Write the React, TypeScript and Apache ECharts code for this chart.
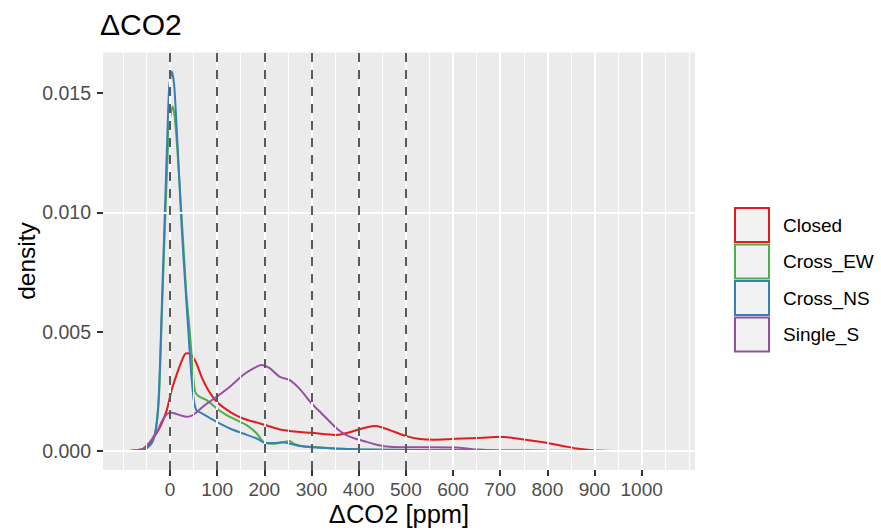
import React, { useEffect, useRef } from "react";
import * as echarts from "echarts";

const groups = ["Closed", "Cross_EW", "Cross_NS", "Single_S"];
const colors = ["#E41A1C", "#4DAF4A", "#377EB8", "#984EA3"];

// Closed (red)
const closedX = [-85, -70, -56, -39, -21, -7, 3.5, 17.6, 31.8, 38.8, 53, 67, 81, 99, 127, 155, 191, 233, 270, 300, 330, 353, 375, 400, 420, 434, 450, 466, 501, 530, 560, 590, 621, 660, 699, 720, 750, 780, 805, 835, 862, 890, 920, 960, 1056];
const closedY = [0, 0.00003, 0.0001, 0.00045, 0.001, 0.0017, 0.00255, 0.0034, 0.00406, 0.00409, 0.0038, 0.0031, 0.00255, 0.00206, 0.00164, 0.00136, 0.00115, 0.0009, 0.0008, 0.00076, 0.0007, 0.00067, 0.00075, 0.0009, 0.001, 0.00104, 0.00098, 0.00087, 0.00062, 0.0005, 0.00047, 0.00049, 0.00052, 0.00055, 0.00059, 0.00056, 0.00048, 0.00039, 0.00031, 0.0002, 0.0001, 0.00004, 0.00001, 0, 0];

// Cross_EW (green)
const ewX = [-85, -70, -56, -46, -38, -32, -27, -23, -19, -15, -10.5, -5, -1, 5.7, 10, 15, 20, 25, 30, 35, 42, 47, 53, 60, 77.7, 99, 120, 141, 162.5, 184, 198, 215, 226, 240, 254, 262, 275, 300, 350, 403, 500, 600, 700, 800, 1056];
const ewY = [0, 0.00002, 0.00004, 0.00017, 0.00035, 0.0007, 0.0013, 0.0024, 0.0046, 0.007, 0.0095, 0.0124, 0.0138, 0.01444, 0.014, 0.0128, 0.0113, 0.0097, 0.0081, 0.0065, 0.005, 0.0037, 0.0025, 0.0023, 0.00213, 0.00178, 0.0015, 0.00129, 0.00108, 0.00073, 0.00038, 0.0003, 0.00031, 0.00036, 0.00042, 0.0003, 0.00022, 0.00017, 0.0001, 0.00006, 0.00004, 0.00003, 0.00001, 0, 0];

// Cross_NS (blue)
const nsX = [-85, -70, -56, -46, -38, -32, -27, -23, -19, -15, -10.5, -5, -1.5, 4, 9, 14, 19.7, 25, 30, 35, 39, 44, 50, 56, 65, 74, 99, 127, 155, 184, 201, 220, 237, 255, 270, 300, 350, 400, 450, 500, 600, 650, 700, 800, 1056];
const nsY = [0, 0.00002, 0.00004, 0.00017, 0.00035, 0.0007, 0.0014, 0.0026, 0.005, 0.0075, 0.0102, 0.0136, 0.0153, 0.0159, 0.0153, 0.0136, 0.0114, 0.0093, 0.0077, 0.0062, 0.005, 0.0035, 0.0022, 0.0017, 0.0016, 0.0015, 0.00122, 0.00094, 0.00073, 0.00052, 0.00034, 0.00033, 0.00036, 0.0003, 0.00023, 0.00015, 0.0001, 0.00007, 0.00005, 0.00004, 0.00004, 0.00002, 0.00001, 0, 0];

// Single_S (purple)
const singleX = [-85, -70, -56, -45, -35, -25, -17.6, -7, 3.5, 12, 21, 35, 45, 53, 74, 99, 127, 155, 177, 194, 212, 233, 254, 275, 300, 320, 339, 356, 374, 395, 417, 440, 466, 500, 550, 607, 630, 650, 700, 800, 900, 1056];
const singleY = [0, 0.00003, 0.0001, 0.0003, 0.00059, 0.0009, 0.00122, 0.00154, 0.0016, 0.00156, 0.0015, 0.00143, 0.00147, 0.00157, 0.00192, 0.00227, 0.00269, 0.00318, 0.00346, 0.0036, 0.00346, 0.0031, 0.00297, 0.0026, 0.00199, 0.0016, 0.00122, 0.0009, 0.00066, 0.0005, 0.00038, 0.00025, 0.00017, 0.00015, 0.00015, 0.00014, 0.0001, 0.00006, 0.00002, 0.00001, 0, 0];

const xTicks = [0, 100, 200, 300, 400, 500, 600, 700, 800, 900, 1000];
const xMinor = [-100, -50, 50, 150, 250, 350, 450, 550, 650, 750, 850, 950, 1050, 1100];
const yTicks = [0, 0.005, 0.01, 0.015];
const yMinor = [0.0025, 0.0075, 0.0125];
const vLines = [0, 100, 200, 300, 400, 500];

const seriesX = [closedX, ewX, nsX, singleX];
const seriesY = [closedY, ewY, nsY, singleY];

const FONT = "'Liberation Sans', Arial, sans-serif";

export default function App() {
  const ref = useRef<HTMLDivElement>(null);
  useEffect(() => {
    if (!ref.current) return;
    const chart = echarts.init(ref.current, undefined, { renderer: "svg" });
    const gridMarks = [
      ...xMinor.map((v) => ({ xAxis: v, lineStyle: { color: "#ffffff", width: 1, type: "solid" as const } })),
      ...yMinor.map((v) => ({ yAxis: v, lineStyle: { color: "#ffffff", width: 1, type: "solid" as const } })),
      ...xTicks.map((v) => ({ xAxis: v, lineStyle: { color: "#ffffff", width: 2, type: "solid" as const } })),
      ...yTicks.map((v) => ({ yAxis: v, lineStyle: { color: "#ffffff", width: 2, type: "solid" as const } })),
    ];
    const keyTop = 207;
    const keyPitch = 36.5;
    const legendGraphics: any[] = [];
    groups.forEach((g, i) => {
      legendGraphics.push({
        type: "rect",
        shape: { x: 735, y: keyTop + keyPitch * i + 1, width: 34, height: 34 },
        style: { fill: "#F2F2F2", stroke: colors[i], lineWidth: 2 },
      });
      legendGraphics.push({
        type: "text",
        x: 783,
        y: keyTop + keyPitch * i + 18,
        style: { text: g, fill: "#000000", font: `19px ${FONT}`, textAlign: "left", textVerticalAlign: "middle" },
      });
    });

    chart.setOption({
      animation: false,
      backgroundColor: "#ffffff",
      grid: {
        left: 103,
        right: 186,
        top: 52.5,
        bottom: 62,
        show: true,
        backgroundColor: "#EBEBEB",
        borderWidth: 0,
      },
      xAxis: {
        type: "value",
        min: -142,
        max: 1113,
        axisLine: { show: false, onZero: false },
        splitLine: { show: false },
        axisTick: {
          show: true,
          customValues: xTicks,
          length: 6,
          lineStyle: { color: "#333333", width: 2 },
        },
        axisLabel: {
          customValues: xTicks,
          color: "#4D4D4D",
          fontSize: 19,
          fontFamily: FONT,
          margin: 19,
          verticalAlign: "middle",
          formatter: (v: number) => String(v),
        },
      },
      yAxis: {
        type: "value",
        min: -0.0008,
        max: 0.0167,
        axisLine: { show: false, onZero: false },
        splitLine: { show: false },
        axisTick: {
          show: true,
          customValues: yTicks,
          length: 6,
          lineStyle: { color: "#333333", width: 2 },
        },
        axisLabel: {
          customValues: yTicks,
          color: "#4D4D4D",
          fontSize: 19.5,
          fontFamily: FONT,
          margin: 12,
          formatter: (v: number) => v.toFixed(3),
        },
      },
      graphic: [
        {
          type: "text",
          x: 100,
          y: 24,
          style: { text: "ΔCO2", fill: "#000000", font: `30px ${FONT}`, textAlign: "left", textVerticalAlign: "middle" },
        },
        {
          type: "text",
          x: 399,
          y: 514,
          style: { text: "ΔCO2 [ppm]", fill: "#000000", font: `25.5px ${FONT}`, textAlign: "center", textVerticalAlign: "middle" },
        },
        {
          type: "text",
          x: 26,
          y: 261,
          rotation: Math.PI / 2,
          style: { text: "density", fill: "#000000", font: `24.5px ${FONT}`, textAlign: "center", textVerticalAlign: "middle" },
        },
        ...legendGraphics,
      ],
      series: [
        {
          type: "line",
          name: "grid",
          data: [],
          z: 1,
          silent: true,
          markLine: {
            silent: true,
            animation: false,
            symbol: ["none", "none"],
            label: { show: false },
            emphasis: { disabled: true },
            data: gridMarks,
          },
        },
        ...groups.map((g, i) => ({
          type: "line",
          name: g,
          z: 2,
          showSymbol: false,
          symbol: "none",
          smooth: 0.25,
          silent: true,
          lineStyle: { color: colors[i], width: 2 },
          itemStyle: { color: colors[i] },
          data: seriesX[i].map((x, j) => [x, seriesY[i][j]]),
        })),
        {
          type: "line",
          name: "vlines",
          data: [],
          z: 3,
          silent: true,
          markLine: {
            silent: true,
            animation: false,
            symbol: ["none", "none"],
            label: { show: false },
            emphasis: { disabled: true },
            lineStyle: { color: "#595959", width: 2, type: [9, 8] },
            data: vLines.map((v) => ({ xAxis: v })),
          },
        },
      ],
    });
    return () => chart.dispose();
  }, []);
  return (
    <div
      ref={ref}
      style={{ position: "fixed", left: 0, top: 0, width: 881, height: 532 }}
    />
  );
}
